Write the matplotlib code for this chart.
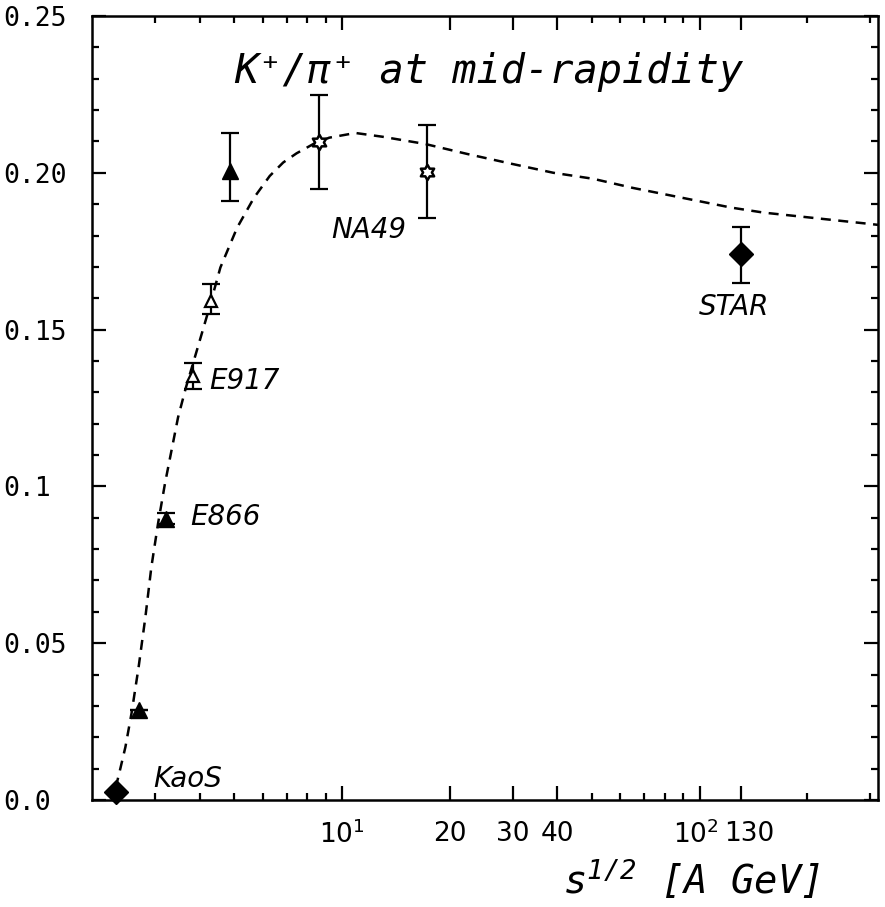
import numpy as np
import matplotlib
matplotlib.use("Agg")
import matplotlib.pyplot as plt
import matplotlib.transforms as mtransforms
from matplotlib.path import Path
from matplotlib.ticker import FixedLocator, FixedFormatter, NullFormatter

plt.rcParams['mathtext.fontset'] = 'custom'
plt.rcParams['mathtext.rm'] = 'DejaVu Sans'
plt.rcParams['mathtext.it'] = 'DejaVu Sans:italic'
plt.rcParams['mathtext.sf'] = 'DejaVu Sans Mono:oblique'

# ---------------- data ----------------
kaos_x = [2.33]
kaos_y = [0.0025]

e866_x = [2.70, 3.22, 4.87]
e866_y = [0.0287, 0.0895, 0.2006]
e866_lo = [0.0287, 0.0880, 0.1911]
e866_hi = [0.0287, 0.0915, 0.2127]

e917_x = [3.83, 4.30]
e917_y = [0.1353, 0.1590]
e917_lo = [0.1312, 0.1551]
e917_hi = [0.1392, 0.1647]

na49_x = [8.6, 17.3]
na49_y = [0.2097, 0.2003]
na49_lo = [0.1949, 0.1857]
na49_hi = [0.2248, 0.2153]

star_x = [130.0]
star_y = [0.1742]
star_lo = [0.1650]
star_hi = [0.1828]

curve_x = [2.33, 2.40, 2.48, 2.58, 2.70, 2.82, 2.93, 3.06, 3.20, 3.48, 3.66,
           3.95, 4.21, 4.57, 5.09, 5.67, 6.28, 6.85, 7.46, 8.32, 9.21, 10.9,
           12.97, 17.06, 22.4, 29.7, 39.0, 50.3, 64.9, 122.5, 151.0, 293.0, 315.0]
curve_y = [0.0040, 0.0100, 0.0169, 0.0277, 0.0424, 0.0583, 0.0742, 0.0882,
           0.1010, 0.1220, 0.1315, 0.1443, 0.1551, 0.1698, 0.1825, 0.1920,
           0.1990, 0.2033, 0.2062, 0.2092, 0.2112, 0.2127, 0.2115, 0.2092,
           0.2060, 0.2029, 0.2000, 0.1981, 0.1952, 0.1889, 0.1873, 0.1838, 0.1834]

y_ticks = [0.0, 0.05, 0.10, 0.15, 0.20, 0.25]
y_ticklabels = ["0.0", "0.05", "0.1", "0.15", "0.20", "0.25"]
x_ticks = [10, 20, 30, 40, 100, 130]
x_ticklabels = ["$10^{1}$", "20", "30", "40", "$10^{2}$", "130"]
x_minor = [3, 4, 5, 6, 7, 8, 9, 50, 60, 70, 80, 90, 200, 300]

labels = ["KaoS", "E866", "E917", "NA49", "STAR"]
label_x = [2.97, 3.76, 4.26, 9.32, 99.3]
label_y = [0.0041, 0.0876, 0.1312, 0.1793, 0.1545]

title = "K\u207a/\u03c0\u207a at mid-rapidity"

# ---------------- figure ----------------
fig = plt.figure(figsize=(8.85, 9.07), dpi=100)
ax = fig.add_axes([92/885, 107/907, 786/885, 784/907])
ax.set_xscale('log')
ax.set_xlim(2.0, 315)
ax.set_ylim(0.0, 0.25)

# hexagram marker shape (star of David)
ang = np.deg2rad(90 + 30*np.arange(12))
rad = np.where(np.arange(12) % 2 == 0, 1.0, 1/np.sqrt(3))
verts = np.column_stack([rad*np.cos(ang), rad*np.sin(ang)])
verts = np.vstack([verts, verts[:1]])
hexagram = Path(verts, [Path.MOVETO] + [Path.LINETO]*11 + [Path.CLOSEPOLY])

ax.plot(curve_x, curve_y, color='black', lw=1.8, linestyle=(0, (4.0, 3.0)),
        zorder=2, solid_joinstyle='round', dash_joinstyle='round')

ebkw = dict(fmt='none', ecolor='black', elinewidth=1.6, capsize=6.5, capthick=1.6, zorder=3)

def yerr(y, lo, hi):
    return [np.array(y) - np.array(lo), np.array(hi) - np.array(y)]

ax.errorbar(e866_x, e866_y, yerr=yerr(e866_y, e866_lo, e866_hi), **ebkw)
ax.errorbar(e917_x, e917_y, yerr=yerr(e917_y, e917_lo, e917_hi), **ebkw)
ax.errorbar(na49_x, na49_y, yerr=yerr(na49_y, na49_lo, na49_hi), **ebkw)
ax.errorbar(star_x, star_y, yerr=yerr(star_y, star_lo, star_hi), **ebkw)

ax.plot(kaos_x, kaos_y, 'D', ms=12, color='black', zorder=4, clip_on=False)
ax.plot(star_x, star_y, 'D', ms=12, color='black', zorder=4)
ax.plot(e866_x, e866_y, '^', ms=11, color='black', zorder=4)
ax.plot(e917_x, e917_y, '^', ms=9, mfc='white', mec='black', mew=1.6, zorder=4)
ax.plot(na49_x, na49_y, marker=hexagram, ls='none', ms=11, mfc='white', mec='black', mew=1.8, zorder=4)

for t, x, y in zip(labels, label_x, label_y):
    ax.text(x, y, t, fontsize=20, fontstyle='italic', family='DejaVu Sans',
            ha='left', va='baseline')

ax.text(0.505, 0.929, title, transform=ax.transAxes, fontsize=29,
        family=['DejaVu Sans Mono', 'DejaVu Sans'], fontstyle='oblique',
        ha='center', va='center')

# ticks
ax.yaxis.set_major_locator(FixedLocator(y_ticks))
ax.yaxis.set_major_formatter(FixedFormatter(y_ticklabels))
ax.yaxis.set_minor_locator(FixedLocator(np.arange(0, 0.2501, 0.01)))
ax.xaxis.set_major_locator(FixedLocator(x_ticks))
ax.xaxis.set_major_formatter(FixedFormatter(x_ticklabels))
ax.xaxis.set_minor_locator(FixedLocator(x_minor))
ax.xaxis.set_minor_formatter(NullFormatter())

ax.tick_params(which='both', direction='in', top=True, right=True, width=1.6, color='black')
ax.tick_params(which='major', length=10)
ax.tick_params(which='minor', length=5)
ax.tick_params(axis='x', which='major', labelsize=19, pad=15)
ax.tick_params(axis='y', which='major', labelsize=19, pad=64)
for lab in ax.get_yticklabels():
    lab.set_horizontalalignment('left')
    lab.set_family('DejaVu Sans Mono')

# nudge the crowded 10^2 / 130 labels apart a little
mticks = ax.xaxis.get_major_ticks()
for idx, dx in ((4, -4), (5, 9)):
    lab = mticks[idx].label1
    lab.set_transform(lab.get_transform() +
                      mtransforms.ScaledTranslation(dx/100, 0, fig.dpi_scale_trans))

for sp in ax.spines.values():
    sp.set_linewidth(1.8)

# x axis title
fig.text(820/885, 1 - 880/907, "$\\mathsf{s^{1/2}}$ [A GeV]", fontsize=28,
         family='DejaVu Sans Mono', fontstyle='oblique', ha='right', va='center')

fig.savefig('out.png', dpi=100)
